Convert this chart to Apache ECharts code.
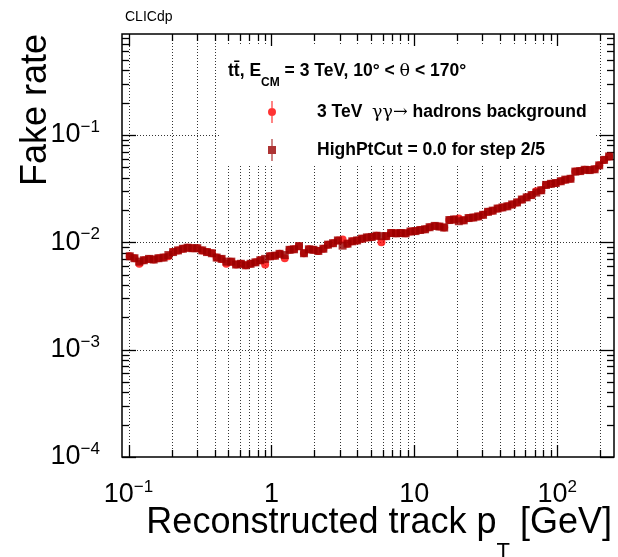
<!DOCTYPE html>
<html><head><meta charset="utf-8">
<script src="https://cdn.jsdelivr.net/npm/echarts@6/dist/echarts.min.js"></script>
<style>html,body{margin:0;padding:0;background:#fff}#c{width:618px;height:557px}</style>
</head><body><div id="c"></div><script>
// Bin centres (reconstructed track pT, GeV)
const ptValues = [0.102,0.110,0.119,0.128,0.139,0.150,0.162,0.176,0.190,0.205,
0.222,0.240,0.259,0.280,0.303,0.328,0.354,0.383,0.414,0.448,
0.484,0.524,0.566,0.612,0.662,0.715,0.773,0.836,0.904,0.978,
1.06,1.14,1.24,1.34,1.44,1.56,1.69,1.83,1.97,2.13,
2.31,2.49,2.70,2.92,3.15,3.41,3.68,3.98,4.31,4.66,
5.04,5.44,5.89,6.36,6.88,7.44,8.04,8.70,9.40,10.2,
11.0,11.9,12.8,13.9,15.0,16.2,17.6,19.0,20.5,22.2,
24.0,25.9,28.0,30.3,32.8,35.4,38.3,41.4,44.8,48.4,
52.4,56.6,61.2,66.2,71.5,77.4,83.6,90.4,97.8,106,
114,124,134,145,156,169,183,197,213,231];

// HighPtCut = 0.0 for step 2/5 (dark red squares)
const cutRate = [0.0074,0.0071,0.0066,0.0068,0.0070,0.0069,0.0071,0.0072,0.0076,0.0081,
0.0084,0.0087,0.0089,0.0088,0.0088,0.0084,0.0081,0.0079,0.0072,0.0070,
0.0066,0.0066,0.0062,0.0063,0.0061,0.0063,0.0065,0.0068,0.0070,0.0074,
0.0075,0.0078,0.0076,0.0085,0.0086,0.0092,0.0079,0.0086,0.0085,0.0083,
0.0087,0.0095,0.0098,0.0104,0.0093,0.0097,0.0102,0.0104,0.0108,0.0111,
0.0112,0.0115,0.0114,0.0114,0.0122,0.0121,0.0122,0.0121,0.0126,0.0127,
0.0130,0.0132,0.0138,0.0142,0.0140,0.0137,0.0161,0.0163,0.0157,0.0160,
0.0168,0.0170,0.0174,0.0180,0.0192,0.0197,0.0206,0.0211,0.0216,0.0225,
0.0235,0.0250,0.0262,0.0275,0.0290,0.0305,0.0342,0.0350,0.0356,0.0370,
0.0383,0.0390,0.0455,0.0460,0.0473,0.0470,0.0478,0.0520,0.0585,0.0630];

// 3 TeV gamma gamma -> hadrons background (red circles)
const bkgRate = [0.0074,0.0071,0.0063,0.0068,0.0070,0.0069,0.0071,0.0072,0.0074,0.0081,
0.0084,0.0087,0.0089,0.0088,0.0088,0.0084,0.0081,0.0079,0.0072,0.0070,
0.0063,0.0066,0.0062,0.0063,0.0061,0.0063,0.0065,0.0068,0.0062,0.0074,
0.0075,0.0078,0.0071,0.0085,0.0086,0.0092,0.0079,0.0086,0.0085,0.0083,
0.0087,0.0095,0.0098,0.0104,0.0106,0.0097,0.0102,0.0104,0.0108,0.0111,
0.0112,0.0115,0.0100,0.0114,0.0122,0.0121,0.0122,0.0121,0.0126,0.0127,
0.0130,0.0132,0.0138,0.0142,0.0140,0.0137,0.0161,0.0163,0.0166,0.0160,
0.0168,0.0170,0.0174,0.0180,0.0192,0.0197,0.0206,0.0211,0.0216,0.0225,
0.0235,0.0250,0.0262,0.0275,0.0298,0.0305,0.0342,0.0350,0.0356,0.0370,
0.0383,0.0390,0.0455,0.0460,0.0473,0.0470,0.0478,0.0520,0.0585,0.0630];

const xTickValues = [0.1,0.2,0.3,0.4,0.5,0.6,0.7,0.8,0.9,1,2,3,4,5,6,7,8,9,10,20,30,40,50,60,70,80,90,100,200];
const yTickValues = [0.0001,0.0002,0.0003,0.0004,0.0005,0.0006,0.0007,0.0008,0.0009,
0.001,0.002,0.003,0.004,0.005,0.006,0.007,0.008,0.009,
0.01,0.02,0.03,0.04,0.05,0.06,0.07,0.08,0.09,
0.1,0.2,0.3,0.4,0.5,0.6,0.7,0.8];
const yGridValues = [0.001,0.01,0.1];

const X_MIN = 0.09, X_MAX = 250, Y_MIN = 1e-4, Y_MAX = 0.87;
const FONT = '"Liberation Sans", Arial, Helvetica, sans-serif';
const SERIF = '"DejaVu Serif", "Liberation Serif", serif';

function isDecade(v){ const l = Math.log10(v); return Math.abs(l - Math.round(l)) < 1e-6; }
function decadeLabel(v){
  if (!isDecade(v)) return '';
  const e = Math.round(Math.log10(v));
  if (e === 0) return '{b|1}';
  if (e === 1) return '{b|10}';
  return '{b|10}{s|' + (e < 0 ? '\u2212' + (-e) : e) + '}';
}
const labelRich = {
  b: {fontSize: 27, fontFamily: FONT, color: '#000', lineHeight: 32},
  s: {fontSize: 17, fontFamily: FONT, color: '#000', lineHeight: 16, verticalAlign: 'top'}
};
const crisp = v => Math.round(v) + 0.5;

const chart = echarts.init(document.getElementById('c'), null, {renderer: 'canvas'});
chart.setOption({
  backgroundColor: '#fff',
  animation: false,
  grid: {left: 122, top: 34, right: 4, bottom: 100, show: true, borderColor: '#000', borderWidth: 1.5, backgroundColor: 'transparent'},
  xAxis: {
    type: 'log', logBase: 10, min: X_MIN, max: X_MAX,
    axisLine: {show: false}, axisTick: {show: false}, splitLine: {show: false},
    axisLabel: {margin: 22, formatter: decadeLabel, rich: labelRich}
  },
  yAxis: {
    type: 'log', logBase: 10, min: Y_MIN, max: Y_MAX,
    axisLine: {show: false}, axisTick: {show: false}, splitLine: {show: false},
    axisLabel: {margin: 22, formatter: decadeLabel, rich: labelRich}
  },
  legend: {
    orient: 'vertical', left: 263, top: 96, itemWidth: 8, itemHeight: 22, itemGap: 16,
    selectedMode: false, z: 6,
    data: [
      {name: 'bkg', icon: 'path://M3.4,0h1.2v22h-1.2zM8,11a4,4 0 1,1 -8,0a4,4 0 1,1 8,0z'},
      {name: 'cut', icon: 'path://M3.4,0h1.2v22h-1.2zM0,7h8v8h-8z'}
    ],
    formatter: function(name){
      return name === 'bkg' ? '{a|3 TeV  }{g|\u03b3\u03b3\u2192}{a| hadrons background}' : '{a|HighPtCut = 0.0 for step 2/5}';
    },
    textStyle: {
      padding: [0, 0, 0, 36],
      rich: {
        a: {fontSize: 17.5, fontWeight: 'bold', fontFamily: FONT, color: '#000'},
        g: {fontSize: 17.5, fontFamily: SERIF, color: '#000'}
      }
    }
  },
  graphic: [
    {type: 'rect', z: 3, shape: {x: 219, y: 46, width: 376, height: 119}, style: {fill: '#fff'}},
    {type: 'text', z: 6, x: 125, y: 10, style: {text: 'CLICdp', fontSize: 14, fontFamily: FONT, fill: '#000'}},
    {type: 'text', z: 6, x: 228, y: 62, style: {
      text: '{b|tt\u0304, E}{c|CM}{b| = 3 TeV, 10\u00b0 < }{g|\u03b8}{b| < 170\u00b0}',
      rich: {
        b: {fontSize: 17.5, fontWeight: 'bold', fontFamily: FONT, fill: '#000', lineHeight: 27, verticalAlign: 'top'},
        g: {fontSize: 17.5, fontFamily: SERIF, fill: '#000', lineHeight: 27, verticalAlign: 'top'},
        c: {fontSize: 12, fontWeight: 'bold', fontFamily: FONT, fill: '#000', lineHeight: 14, verticalAlign: 'bottom'}
      }
    }},
    {type: 'text', z: 6, x: 36, y: 110, rotation: Math.PI / 2, style: {
      text: 'Fake rate', fontSize: 36, fontFamily: FONT, fill: '#000', align: 'center', verticalAlign: 'middle'
    }},
    {type: 'text', z: 6, x: 612, y: 505, style: {
      text: '{m|Reconstructed track p}{t|T}{m| [GeV]}', align: 'right',
      rich: {
        m: {fontSize: 36, fontFamily: FONT, fill: '#000', lineHeight: 58, verticalAlign: 'top'},
        t: {fontSize: 22, fontFamily: FONT, fill: '#000', lineHeight: 26, verticalAlign: 'bottom'}
      }
    }}
  ],
  series: [
    {
      type: 'custom', name: 'xticks', z: 1, silent: true, clip: false,
      data: xTickValues.map(v => [v, Y_MIN]),
      renderItem: function(params, api){
        const cs = params.coordSys;
        const px = crisp(api.coord([api.value(0), Y_MIN])[0]);
        const len = isDecade(api.value(0)) ? 12 : 7;
        const top = cs.y, bot = cs.y + cs.height;
        return {type: 'group', children: [
          {type: 'line', shape: {x1: px, y1: top, x2: px, y2: bot}, style: {stroke: '#000', lineWidth: 0.8, lineDash: [1, 2]}},
          {type: 'line', shape: {x1: px, y1: bot, x2: px, y2: bot - len}, style: {stroke: '#000', lineWidth: 1.3}},
          {type: 'line', shape: {x1: px, y1: top, x2: px, y2: top + len}, style: {stroke: '#000', lineWidth: 1.3}}
        ]};
      }
    },
    {
      type: 'custom', name: 'yticks', z: 1, silent: true, clip: false,
      data: yTickValues.map(v => [X_MIN, v]),
      renderItem: function(params, api){
        const cs = params.coordSys;
        const py = crisp(api.coord([X_MIN, api.value(1)])[1]);
        const len = isDecade(api.value(1)) ? 14 : 7;
        const l = cs.x, r = cs.x + cs.width;
        return {type: 'group', children: [
          {type: 'line', shape: {x1: l, y1: py, x2: l + len, y2: py}, style: {stroke: '#000', lineWidth: 1.3}},
          {type: 'line', shape: {x1: r, y1: py, x2: r - len, y2: py}, style: {stroke: '#000', lineWidth: 1.3}}
        ]};
      }
    },
    {
      type: 'custom', name: 'ygrid', z: 1, silent: true, clip: false,
      data: yGridValues.map(v => [X_MIN, v]),
      renderItem: function(params, api){
        const cs = params.coordSys;
        const py = crisp(api.coord([X_MIN, api.value(1)])[1]);
        return {type: 'line', shape: {x1: cs.x, y1: py, x2: cs.x + cs.width, y2: py}, style: {stroke: '#000', lineWidth: 0.8, lineDash: [1, 2]}};
      }
    },
    {
      type: 'scatter', name: 'bkg', z: 4, symbol: 'circle', symbolSize: 8,
      itemStyle: {color: '#ff0000'},
      data: ptValues.map((x, i) => [x, bkgRate[i]])
    },
    {
      type: 'scatter', name: 'cut', z: 5, symbol: 'rect', symbolSize: 8,
      itemStyle: {color: '#990000'},
      data: ptValues.map((x, i) => [x, cutRate[i]])
    }
  ]
});
</script></body></html>
